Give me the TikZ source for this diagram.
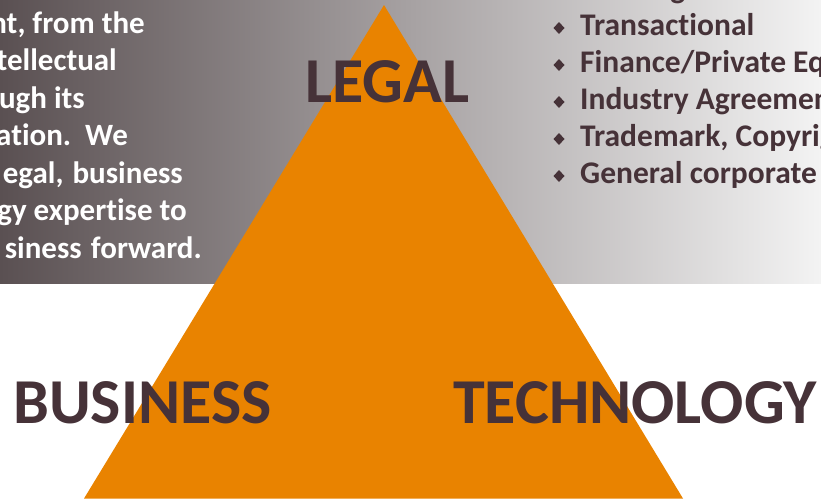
\documentclass[tikz,border=0pt]{standalone}
\usepackage{fontspec}
\setmainfont{Carlito}[Ligatures={NoCommon}]
\definecolor{bandL}{RGB}{90,80,82}
\definecolor{bandR}{RGB}{243,243,243}
\definecolor{triorange}{RGB}{233,131,0}
\definecolor{darktext}{RGB}{70,50,56}
\tikzset{
  lefttext/.style={text=white, font=\bfseries\fontsize{31}{37}\selectfont, inner sep=0pt, anchor=base east},
  listtext/.style={text=darktext, font=\bfseries\fontsize{31.5}{37}\selectfont, inner sep=0pt, anchor=base west},
  bigword/.style={text=darktext, font=\bfseries\fontsize{64}{70}\selectfont, inner sep=0pt, anchor=base west},
  bulletmark/.style={fill=darktext},
}
\begin{document}
\begin{tikzpicture}[x=1pt,y=-1pt]
\useasboundingbox (0,0) rectangle (821,499);
\clip (0,0) rectangle (821,499);
\shade[left color=bandL, right color=bandR] (0,0) rectangle (821,283);
\fill[triorange] (384,5) -- (84,498.5) -- (683,498.5) -- cycle;
% left paragraph
\node[lefttext] (l1) at (145,33) {nt, from the};
\node[lefttext] (l2) at (117,70.5) {tellectual};
\node[lefttext] (l3) at (85,108) {ugh its};
\node[lefttext] (l4) at (128,145.5) {ation.\ \ We};
\node[lefttext] (l5) at (183,183) {\makebox[180pt][s]{egal, business}};
\node[lefttext] (l6) at (187,220.5) {gy expertise to};
\node[lefttext] (l7) at (202,258) {\makebox[197pt][s]{siness forward.}};
% right list
\node[listtext, anchor=base east] (r0) at (700,-2) {g/};
\node[listtext] (r1) at (580,35) {Transactional};
\node[listtext] (r2) at (580,72) {Finance/Private Equity};
\node[listtext] (r3) at (580,109) {Industry Agreements};
\node[listtext] (r4) at (580,146) {Trademark, Copyright};
\node[listtext] (r5) at (580,183) {General corporate};
\foreach \i/\y in {1/28,2/65,3/102,4/139,5/176}{
  \coordinate (b\i) at (559,\y);
  \fill[bulletmark] (b\i) +(-5.5,0) -- +(0,-6) -- +(5.5,0) -- +(0,6) -- cycle;
}
% big words
\node[bigword] (legal) at (305,102) {LEGAL};
\node[bigword] (business) at (13,423) {BUSINESS};
\node[bigword] (technology) at (453,423) {TECHNOLOGY};
\end{tikzpicture}
\end{document}
